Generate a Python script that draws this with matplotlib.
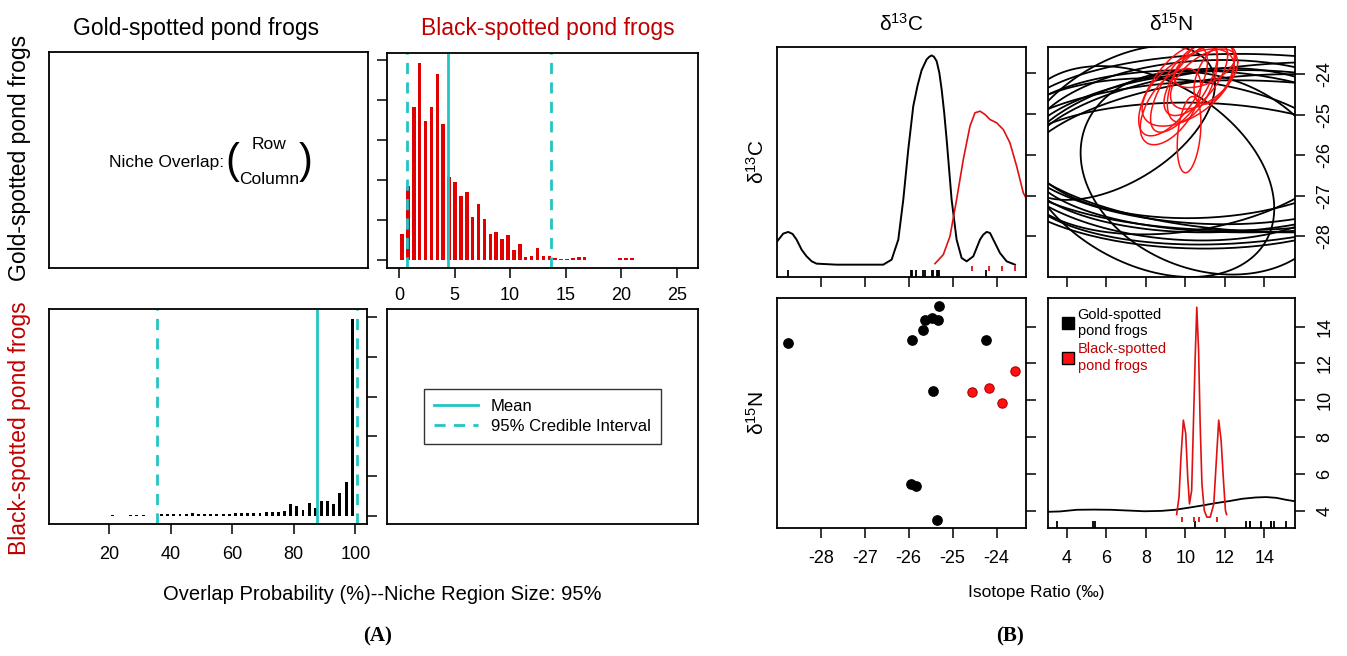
import numpy as np
import matplotlib
matplotlib.use("Agg")
import matplotlib.pyplot as plt
from matplotlib.lines import Line2D

plt.rcParams['font.family'] = ['Liberation Sans', 'DejaVu Sans']
plt.rcParams['mathtext.fontset'] = 'custom'
plt.rcParams['mathtext.rm'] = 'Liberation Sans'
plt.rcParams['mathtext.default'] = 'regular'
plt.rcParams['axes.unicode_minus'] = False

# ---- panel A data: overlap histograms -------------------------------------
# P(gold-spotted niche overlaps black-spotted), in %
bin_black = [0.27, 0.80, 1.33, 1.86, 2.39, 2.92, 3.45, 3.98, 4.51, 5.04,
             5.57, 6.10, 6.63, 7.16, 7.69, 8.22, 8.75, 9.28, 9.81, 10.34,
             10.87, 11.40, 11.93, 12.46, 12.99, 13.52, 14.05, 14.58, 15.11,
             15.64, 16.17, 16.70, 17.76, 18.29, 19.88, 20.41, 20.94, 22.00,
             26.24]
hist_black = [0.67, 1.86, 3.82, 4.93, 3.48, 3.82, 4.65, 3.39, 2.08, 1.96,
              1.61, 1.71, 1.08, 1.40, 1.04, 0.67, 0.71, 0.53, 0.63, 0.27,
              0.40, 0.08, 0.10, 0.32, 0.10, 0.12, 0.07, 0.04, 0.03,
              0.06, 0.08, 0.08, 0.02, 0.02, 0.06, 0.06, 0.05, 0.02,
              0.02]
mean_black = 4.41
ci_black = [0.72, 13.66]

# P(black-spotted niche overlaps gold-spotted), in %
bin_gold = [21, 27, 29, 31, 37, 39, 41, 43, 45, 47, 49, 51, 53, 55, 57, 59,
            61, 63, 65, 67, 69, 71, 73, 75, 77, 79, 81, 83, 85, 87, 89, 91,
            93, 95, 97, 99]
hist_gold = [0.01, 0.01, 0.02, 0.02, 0.04, 0.05, 0.05, 0.03, 0.03, 0.06,
             0.03, 0.05, 0.04, 0.03, 0.05, 0.03, 0.06, 0.07, 0.07, 0.07,
             0.07, 0.08, 0.09, 0.10, 0.12, 0.30, 0.24, 0.15, 0.32, 0.19,
             0.36, 0.36, 0.29, 0.57, 0.85, 4.96]
mean_gold = 87.4
ci_gold = [35.6, 100.4]

# ---- panel B data: isotope values ------------------------------------------
gold_c = [-28.74, -25.93, -25.67, -25.63, -25.48, -25.33, -25.31, -24.23,
          -25.44, -25.95, -25.84, -25.35]
gold_n = [13.09, 13.27, 13.82, 14.36, 14.49, 14.36, 15.09, 13.27,
          10.49, 5.45, 5.33, 3.51]
black_c = [-24.57, -24.17, -23.87, -23.57]
black_n = [10.45, 10.67, 9.82, 11.60]

# density of d13C
dc_gold_x = [-28.995, -28.858, -28.744, -28.645, -28.554, -28.44, -28.327,
             -28.21, -28.099, -27.643, -26.580, -26.390, -26.238, -26.124,
             -26.011, -25.897, -25.800, -25.707, -25.593, -25.532, -25.479,
             -25.426, -25.365, -25.304, -25.251, -25.194, -25.137, -25.024,
             -24.910, -24.796, -24.682, -24.530, -24.378, -24.302, -24.226,
             -24.150, -24.074, -23.923, -23.771, -23.581]
dc_gold_y = [0.877, 1.066, 1.107, 1.057, 0.918, 0.672, 0.508, 0.385, 0.328,
             0.303, 0.303, 0.426, 0.918, 1.902, 3.131, 4.197, 4.700, 5.080,
             5.344, 5.410, 5.443, 5.410, 5.303, 5.020, 4.607, 4.050, 3.377,
             1.902, 0.918, 0.467, 0.385, 0.508, 0.918, 1.041, 1.107, 1.082,
             0.918, 0.590, 0.385, 0.303]
dc_black_x = [-25.403, -25.213, -25.061, -24.910, -24.758, -24.606, -24.492,
              -24.378, -24.264, -24.150, -23.998, -23.847, -23.695, -23.543,
              -23.391, -23.330]
dc_black_y = [0.328, 0.549, 1.000, 1.902, 2.885, 3.705, 4.033, 4.074, 3.992,
              3.869, 3.787, 3.623, 3.295, 2.721, 2.066, 1.943]

# density of d15N (drawn on the d15N scale)
dn_gold_x = [3.05, 3.66, 4.51, 5.37, 6.22, 7.08, 7.93, 8.79, 9.47, 10.15,
             10.84, 11.52, 12.21, 12.89, 13.57, 14.09, 14.60, 15.11, 15.62]
dn_gold_y = [3.93, 3.95, 4.04, 4.05, 4.04, 4.00, 3.96, 3.98, 4.04, 4.15,
             4.27, 4.40, 4.51, 4.64, 4.71, 4.73, 4.69, 4.58, 4.49]
dn_black_x = [9.56, 9.68, 9.78, 9.90, 10.02, 10.12, 10.21, 10.32, 10.41,
              10.50, 10.58, 10.67, 10.75, 10.84, 10.96, 11.09, 11.26, 11.44,
              11.56, 11.69, 11.81, 11.93, 12.03, 12.09]
dn_black_y = [3.78, 4.73, 6.91, 8.91, 8.18, 5.82, 4.36, 5.09, 8.73, 12.36,
              15.05, 12.73, 8.73, 5.45, 4.00, 3.64, 3.64, 4.36, 6.55, 8.91,
              7.82, 5.64, 4.00, 3.78]

# posterior niche ellipses: centre (d15N, d13C), half-extents, correlation
ell_gold = [(11.1, -26.44, 6.4, 2.5, -0.2), (12.0, -25.9, 10.5, 2.0, 0.1),
            (11.0, -25.8, 10.0, 1.9, -0.1), (13.0, -26.1, 11.5, 2.1, 0.2),
            (10.0, -25.9, 8.5, 2.05, 0.25), (14.0, -25.7, 13.0, 2.2, -0.1),
            (8.0, -26.4, 6.5, 2.6, -0.35), (12.5, -26.0, 12.0, 1.85, 0.0),
            (9.5, -26.1, 9.0, 2.0, -0.15), (15.0, -25.8, 13.0, 2.1, 0.15),
            (11.0, -25.6, 9.0, 1.95, 0.1), (10.5, -26.5, 10.0, 1.8, -0.05),
            (6.5, -25.2, 5.0, 1.9, 0.5)]
ell_black = [(9.38, -24.41, 1.74, 1.11, 0.65), (10.14, -24.33, 2.33, 0.95, 0.55),
             (10.53, -24.12, 1.61, 0.90, 0.65), (10.36, -24.20, 1.27, 0.98, 0.55),
             (10.19, -25.49, 0.60, 0.94, 0.3), (10.99, -23.80, 1.57, 0.53, 0.5),
             (9.93, -24.32, 1.69, 1.11, 0.7), (11.46, -24.00, 1.02, 0.74, 0.5),
             (9.25, -24.80, 1.53, 0.94, 0.55), (10.95, -24.12, 1.70, 0.74, 0.55)]

CYAN = '#22c4c4'
DRED = '#c00000'
W, H = 1347, 656

fig = plt.figure(figsize=(W / 100, H / 100), dpi=100)


def box(l, t, r, b):
    ax = fig.add_axes([l / W, 1 - b / H, (r - l) / W, (b - t) / H])
    for sp in ax.spines.values():
        sp.set_linewidth(1.3)
    ax.tick_params(direction='out', length=7.5, width=1.1, labelsize=13, pad=8)
    return ax


def ftext(x, y, s, **kw):
    fig.text(x / W, 1 - y / H, s, ha='center', va='center', **kw)


def ellipse(ax, mx, my, rx, ry, rho, color, lw):
    t = np.linspace(0, 2 * np.pi, 300)
    phi = np.arccos(rho)
    ax.plot(mx + rx * np.cos(t), my + ry * np.cos(t - phi), color=color, lw=lw)


def rug(ax, xs, y0, y1, color):
    ax.vlines(xs, y0, y1, transform=ax.get_xaxis_transform(), color=color, lw=1.3)


# ================= panel A =================
a_tl = box(49, 52, 368, 268)
a_tl.set_xticks([])
a_tl.set_yticks([])
a_tl.text(0.55, 0.49, 'Niche Overlap:', transform=a_tl.transAxes,
          ha='right', va='center', fontsize=12.5)
a_tl.text(0.575, 0.49, '(', transform=a_tl.transAxes, ha='center',
          va='center', fontsize=30, fontweight='light')
a_tl.text(0.69, 0.57, 'Row', transform=a_tl.transAxes, ha='center',
          va='center', fontsize=12.5)
a_tl.text(0.69, 0.41, 'Column', transform=a_tl.transAxes, ha='center',
          va='center', fontsize=12.5)
a_tl.text(0.805, 0.49, ')', transform=a_tl.transAxes, ha='center',
          va='center', fontsize=30, fontweight='light')

a_tr = box(387, 53, 698, 268)
a_tr.bar(bin_black, hist_black, width=0.32, color='#e00000')
a_tr.axvline(mean_black, color=CYAN, lw=2)
for v in ci_black:
    a_tr.axvline(v, color=CYAN, lw=2, ls=(0, (4, 3)))
a_tr.set_xlim(-1.08, 26.9)
a_tr.set_ylim(-0.19, 5.17)
a_tr.set_xticks([0, 5, 10, 15, 20, 25])
a_tr.set_yticks([0, 1, 2, 3, 4, 5])
a_tr.set_yticklabels([])
a_tr.tick_params(axis='x', pad=6)

a_bl = box(49, 309, 367, 524)
a_bl.bar(bin_gold, hist_gold, width=0.95, color='black')
a_bl.axvline(mean_gold, color=CYAN, lw=2)
for v in ci_gold:
    a_bl.axvline(v, color=CYAN, lw=2, ls=(0, (4, 3)))
a_bl.set_xlim(0.4, 103.8)
a_bl.set_ylim(-0.21, 5.21)
a_bl.set_xticks([20, 40, 60, 80, 100])
a_bl.yaxis.tick_right()
a_bl.set_yticks([0, 1, 2, 3, 4, 5])
a_bl.set_yticklabels([])

a_br = box(387, 309, 698, 524)
a_br.set_xticks([])
a_br.set_yticks([])
handles = [Line2D([], [], color=CYAN, lw=2),
           Line2D([], [], color=CYAN, lw=2, ls=(0, (4, 3)))]
leg = a_br.legend(handles, ['Mean', '95% Credible Interval'], loc='center',
                  fontsize=12, handlelength=2.6, fancybox=False,
                  edgecolor='black', borderpad=0.6, labelspacing=0.3)
leg.get_frame().set_linewidth(1.0)

ftext(196, 28, 'Gold-spotted pond frogs', fontsize=16.5)
ftext(548, 28, 'Black-spotted pond frogs', fontsize=16.5, color=DRED)
ftext(20, 158, 'Gold-spotted pond frogs', fontsize=16.5, rotation=90)
ftext(20, 428, 'Black-spotted pond frogs', fontsize=16.5, rotation=90, color=DRED)
ftext(382, 595, 'Overlap Probability (%)--Niche Region Size: 95%', fontsize=14.5)
ftext(378, 636, '(A)', fontsize=15, fontweight='bold',
      family=['Liberation Serif', 'DejaVu Serif'])

# ================= panel B =================
c_lim = (-29.0, -23.33)
n_lim = (3.05, 15.55)

b_tl = box(777, 47, 1026, 277)
b_tl.plot(dc_gold_x, dc_gold_y, color='black', lw=1.4)
b_tl.plot(dc_black_x, dc_black_y, color='#e01010', lw=1.2)
rug(b_tl, gold_c, 0, 0.03, 'black')
rug(b_tl, black_c, 0.025, 0.05, '#e01010')
b_tl.set_xlim(*c_lim)
b_tl.set_ylim(0, 5.65)
b_tl.set_xticks([-28, -27, -26, -25, -24])
b_tl.set_xticklabels([])
b_tl.yaxis.tick_right()
b_tl.set_yticks([1, 2, 3, 4, 5])
b_tl.set_yticklabels([])

b_tr = box(1048, 47, 1295, 277)
for e in ell_gold:
    ellipse(b_tr, *e, color='black', lw=1.3)
for e in ell_black:
    ellipse(b_tr, *e, color='#ff1010', lw=1.1)
b_tr.set_xlim(*n_lim)
b_tr.set_ylim(*c_lim)
b_tr.set_xticks([4, 6, 8, 10, 12, 14])
b_tr.set_xticklabels([])
b_tr.yaxis.tick_right()
b_tr.set_yticks([-28, -27, -26, -25, -24])
b_tr.tick_params(axis='y', labelrotation=90)
for lab in b_tr.get_yticklabels():
    lab.set_va('center')

b_bl = box(777, 298, 1026, 528)
b_bl.scatter(gold_c, gold_n, s=45, color='black', zorder=3)
b_bl.scatter(black_c, black_n, s=45, facecolor='#ff1010', edgecolor='#b00000',
             lw=0.8, zorder=3)
b_bl.set_xlim(*c_lim)
b_bl.set_ylim(*n_lim)
b_bl.set_xticks([-28, -27, -26, -25, -24])
b_bl.yaxis.tick_right()
b_bl.set_yticks([4, 6, 8, 10, 12, 14])
b_bl.set_yticklabels([])

b_br = box(1048, 298, 1295, 528)
b_br.plot(dn_gold_x, dn_gold_y, color='black', lw=1.3)
b_br.plot(dn_black_x, dn_black_y, color='#e01010', lw=1.2)
rug(b_br, gold_n, 0, 0.03, 'black')
rug(b_br, black_n, 0.025, 0.05, '#e01010')
b_br.set_xlim(*n_lim)
b_br.set_ylim(*n_lim)
b_br.set_xticks([4, 6, 8, 10, 12, 14])
b_br.yaxis.tick_right()
b_br.set_yticks([4, 6, 8, 10, 12, 14])
b_br.tick_params(axis='y', labelrotation=90)
for lab in b_br.get_yticklabels():
    lab.set_va('center')
sq = [Line2D([], [], marker='s', ls='', ms=9, mfc='black', mec='black'),
      Line2D([], [], marker='s', ls='', ms=9, mfc='#ff1010', mec='black')]
leg2 = b_br.legend(sq, ['Gold-spotted\npond frogs', 'Black-spotted\npond frogs'],
                   loc='upper left', bbox_to_anchor=(0.025, 0.995), frameon=False,
                   fontsize=10.5, handlelength=0.7, handletextpad=0.3,
                   labelspacing=0.3, borderaxespad=0.2)
leg2.get_texts()[1].set_color(DRED)

ftext(901, 24, r'δ$^{13}$C', fontsize=15)
ftext(1171, 24, r'δ$^{15}$N', fontsize=15)
ftext(757, 162, r'δ$^{13}$C', fontsize=15, rotation=90)
ftext(757, 413, r'δ$^{15}$N', fontsize=15, rotation=90)
ftext(1036, 592, 'Isotope Ratio (‰)', fontsize=12.5)
ftext(1010, 636, '(B)', fontsize=15, fontweight='bold',
      family=['Liberation Serif', 'DejaVu Serif'])

fig.savefig('out.png', dpi=100)
